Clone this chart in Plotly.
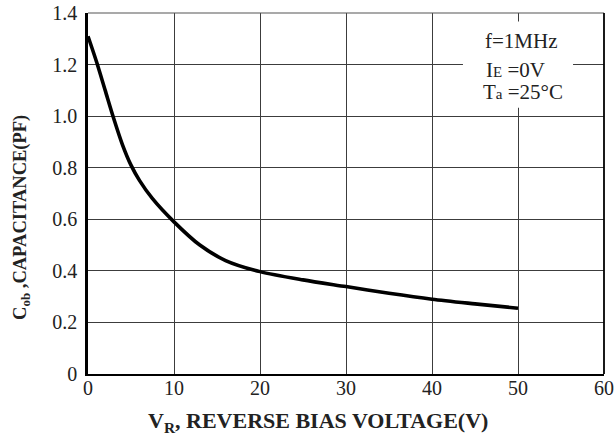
import plotly.graph_objects as go

# Output capacitance vs. reverse bias voltage
vr_volts = [0, 1, 2, 3, 4, 5, 6, 7.5, 10, 13, 16, 20, 25, 30, 35, 40, 45, 50]
cob_pf = [1.31, 1.21, 1.10, 0.99, 0.89, 0.81, 0.75, 0.68, 0.59, 0.50, 0.44,
          0.397, 0.365, 0.339, 0.313, 0.29, 0.272, 0.255]

x_ticks = [0, 10, 20, 30, 40, 50, 60]
x_tick_text = ["0", "10", "20", "30", "40", "50", "60"]
y_ticks = [0, 0.2, 0.4, 0.6, 0.8, 1.0, 1.2, 1.4]
y_tick_text = ["0", "0.2", "0.4", "0.6", "0.8", "1.0", "1.2", "1.4"]

SMALL = '<span style="font-size:15px">{}</span>'
conditions = ["f=1MHz",
              "I" + SMALL.format("E") + " =0V",
              "T" + SMALL.format("a") + " =25°C"]

x_title = "V<sub>R</sub>, REVERSE BIAS VOLTAGE(V)"
y_title = "C<sub>ob</sub> ,CAPACITANCE(PF)"

SERIF = "Liberation Serif, Times New Roman, serif"
GRID = "#3c3c3c"
INK = "#222"

fig = go.Figure()
fig.add_trace(go.Scatter(
    x=vr_volts, y=cob_pf, mode="lines",
    line=dict(color="black", width=3.6, shape="spline", smoothing=0.8),
    hoverinfo="skip", showlegend=False,
))

fig.update_layout(
    width=615, height=436,
    margin=dict(l=88, r=11, t=13, b=62, autoexpand=False),
    paper_bgcolor="white", plot_bgcolor="white",
    font=dict(family=SERIF, color=INK, size=20),
    xaxis=dict(
        range=[0, 60], tickvals=x_ticks, ticktext=x_tick_text,
        showgrid=True, gridcolor=GRID, gridwidth=1.2,
        showline=True, linecolor="black", linewidth=2.2,
        ticks="", zeroline=False, ticklabelstandoff=-5, automargin=False,
        tickfont=dict(size=20, family=SERIF, color=INK),
    ),
    yaxis=dict(
        range=[0, 1.4], tickvals=y_ticks, ticktext=y_tick_text,
        showgrid=True, gridcolor=GRID, gridwidth=1.2,
        showline=True, linecolor="black", linewidth=2.6,
        ticks="", zeroline=False, ticklabelstandoff=4, automargin=False,
        tickfont=dict(size=20, family=SERIF, color=INK),
    ),
)

# Axis titles
fig.add_annotation(xref="paper", yref="paper", x=0.445, y=-0.133,
                   text=x_title, showarrow=False,
                   xanchor="center", yanchor="middle",
                   font=dict(size=22, family=SERIF, color=INK, weight="bold"))
fig.add_annotation(xref="paper", yref="paper", x=-0.128, y=0.435,
                   text=y_title, showarrow=False, textangle=-90,
                   xanchor="center", yanchor="middle",
                   font=dict(size=18.5, family=SERIF, color=INK, weight="bold"))

# Frame: thin top edge, heavier right edge
fig.add_shape(type="line", xref="paper", yref="paper", x0=0, x1=1, y0=1, y1=1,
              line=dict(color="#555", width=1.2))
fig.add_shape(type="line", xref="paper", yref="paper", x0=1, x1=1, y0=0, y1=1,
              line=dict(color="black", width=1.8))

# White panel behind the test conditions
fig.add_shape(type="rect", x0=43.6, x1=56.4, y0=1.033, y1=1.367,
              fillcolor="white", line=dict(width=0), layer="between")

cond_pos = [(50.35, 1.29), (49.7, 1.18), (50.55, 1.092)]
for txt, (cx, cy) in zip(conditions, cond_pos):
    fig.add_annotation(x=cx, y=cy, text=txt, showarrow=False,
                       font=dict(size=21, family=SERIF, color=INK))

fig.write_html("out.html")
